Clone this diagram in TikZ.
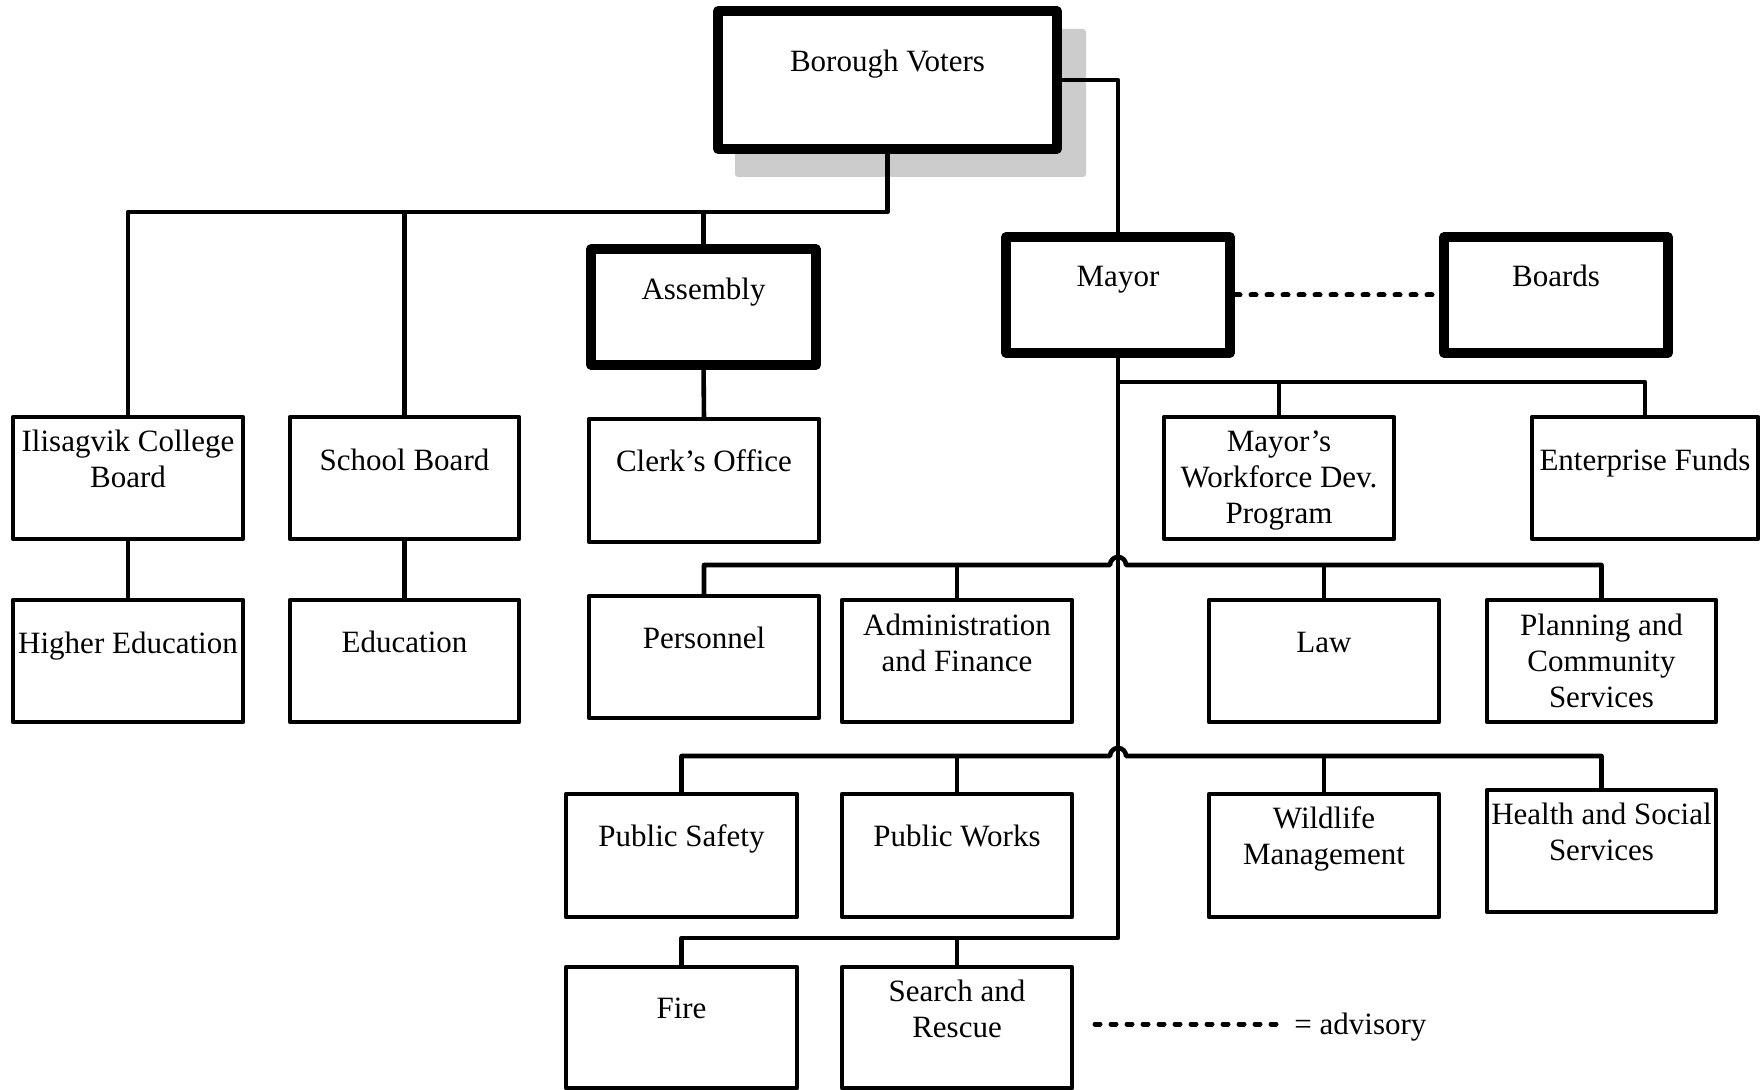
\documentclass[tikz,border=0pt]{standalone}
\usepackage{fontspec}
\setmainfont{Liberation Serif}
\definecolor{shadowgray}{HTML}{CCCCCC}
\begin{document}
\begin{tikzpicture}[x=0.5pt,y=-0.5pt,
  box/.style={draw, line width=2.3pt, fill=white, inner sep=0pt, outer sep=0pt, line join=round, anchor=north west},
  thickbox/.style={box, line width=4.75pt},
  txt/.style={font=\fontsize{15.5}{18}\selectfont, align=center, inner sep=0pt, anchor=north},
  conn/.style={line width=2.3pt, line join=round},
  advisory/.style={line width=2.5pt, line cap=round, dash pattern=on 2.5pt off 5.5pt}]
\useasboundingbox (0,0) rectangle (1762,1090);

% shadow of top box
\fill[shadowgray, rounded corners=1.5pt] (735,29) rectangle (1086,177);

% thick boxes
\node[thickbox, minimum width=169.5pt, minimum height=69pt] (voters) at (718,11) {};
\node[thickbox, minimum width=112.5pt, minimum height=58pt] (assembly) at (591,249) {};
\node[thickbox, minimum width=112pt, minimum height=58pt] (mayor) at (1006,237) {};
\node[thickbox, minimum width=112pt, minimum height=58pt] (boards) at (1444,237) {};

% row 1
\node[box, minimum width=115pt, minimum height=61pt] (ilis) at (13,417) {};
\node[box, minimum width=114.5pt, minimum height=61pt] (sb) at (290,417) {};
\node[box, minimum width=115pt, minimum height=61.5pt] (clerk) at (589,419) {};
\node[box, minimum width=115pt, minimum height=61pt] (mwd) at (1164,417) {};
\node[box, minimum width=113pt, minimum height=61pt] (ent) at (1532,417) {};
% row 2
\node[box, minimum width=115pt, minimum height=61pt] (hed) at (13,600) {};
\node[box, minimum width=114.5pt, minimum height=61pt] (edu) at (290,600) {};
\node[box, minimum width=115pt, minimum height=61pt] (pers) at (589,596) {};
\node[box, minimum width=115pt, minimum height=61pt] (adm) at (842,600) {};
\node[box, minimum width=115pt, minimum height=61pt] (law) at (1209,600) {};
\node[box, minimum width=114.5pt, minimum height=61pt] (plan) at (1487,600) {};
% row 3
\node[box, minimum width=115.5pt, minimum height=61.5pt] (safety) at (566,794) {};
\node[box, minimum width=115pt, minimum height=61.5pt] (works) at (842,794) {};
\node[box, minimum width=115pt, minimum height=61.5pt] (wild) at (1209,794) {};
\node[box, minimum width=114.5pt, minimum height=61pt] (health) at (1487,790) {};
% row 4
\node[box, minimum width=115.5pt, minimum height=60.5pt] (fire) at (566,967) {};
\node[box, minimum width=115pt, minimum height=60.5pt] (sar) at (842,967) {};

% texts
\node[txt] (voters-t) at (887.5,46) {\strut Borough Voters};
\node[txt] (assembly-t) at (703.5,273.8) {\strut Assembly};
\node[txt] (mayor-t) at (1118,261) {\strut Mayor};
\node[txt] (boards-t) at (1556,261) {\strut Boards};
\node[txt] (ilis-t) at (128,425.8) {\strut Ilisagvik College\\Board};
\node[txt] (sb-t) at (404.5,444.8) {\strut School Board};
\node[txt] (clerk-t) at (704,446) {\strut Clerk’s Office};
\node[txt] (mwd-t) at (1279,425.8) {\strut Mayor’s\\Workforce Dev.\\Program};
\node[txt] (ent-t) at (1645,444.8) {\strut Enterprise Funds};
\node[txt] (hed-t) at (128,627.8) {\strut Higher Education};
\node[txt] (edu-t) at (404.5,627) {\strut Education};
\node[txt] (pers-t) at (704,622.8) {\strut Personnel};
\node[txt] (adm-t) at (957,609.8) {\strut Administration\\and Finance};
\node[txt] (law-t) at (1324,627) {\strut Law};
\node[txt] (plan-t) at (1601.5,609.8) {\strut Planning and\\Community\\Services};
\node[txt] (safety-t) at (681.5,820.8) {\strut Public Safety};
\node[txt] (works-t) at (957,820.8) {\strut Public Works};
\node[txt] (wild-t) at (1324,802.8) {\strut Wildlife\\Management};
\node[txt] (health-t) at (1601.5,798.8) {\strut Health and Social\\Services};
\node[txt] (fire-t) at (681.5,992.8) {\strut Fire};
\node[txt] (sar-t) at (957,975.8) {\strut Search and\\Rescue};

% connectors: voters side
\coordinate (bus) at (887.5,212);
\draw[conn] (voters.south) -- (bus) -| (ilis.north);
\draw[conn] (sb.north) -- (sb.north |- bus);
\draw[conn] (assembly.north) -- (assembly.north |- bus);
\draw[conn] (assembly.south) -- (clerk.north);
\draw[conn] (ilis.south) -- (hed.north);
\draw[conn] (sb.south) -- (edu.north);
\draw[conn] (voters.east) -| (mayor.north);

% mayor trunk
\coordinate (tb) at (1118,938);
\draw[conn] (mayor.south) -- (tb) -| (fire.north);
\draw[conn] (sar.north) -- (sar.north |- tb);

\coordinate (j1) at (1118,382);
\draw[conn] (j1) -| (ent.north);
\draw[conn] (mwd.north) -- (mwd.north |- j1);

\coordinate (j2) at (1118,565);
\draw[conn] (pers.north) |- ([xshift=-4pt]j2) arc[start angle=180, delta angle=-180, radius=4pt] -| (plan.north);
\draw[conn] (adm.north) -- (adm.north |- j2);
\draw[conn] (law.north) -- (law.north |- j2);

\coordinate (j3) at (1118,756);
\draw[conn] (safety.north) |- ([xshift=-4pt]j3) arc[start angle=180, delta angle=-180, radius=4pt] -| (health.north);
\draw[conn] (works.north) -- (works.north |- j3);
\draw[conn] (wild.north) -- (wild.north |- j3);

% advisory
\draw[advisory] ([xshift=2.5pt]mayor.east) -- ([xshift=-2pt]boards.west);
\coordinate (la) at (1095,1024);
\coordinate (lb) at (1279,1024);
\draw[advisory] (la) -- (lb);
\node[font=\fontsize{15.5}{18}\selectfont, inner sep=0pt, anchor=base west] (adv-t) at (1294,1034) {= advisory};
\end{tikzpicture}
\end{document}
